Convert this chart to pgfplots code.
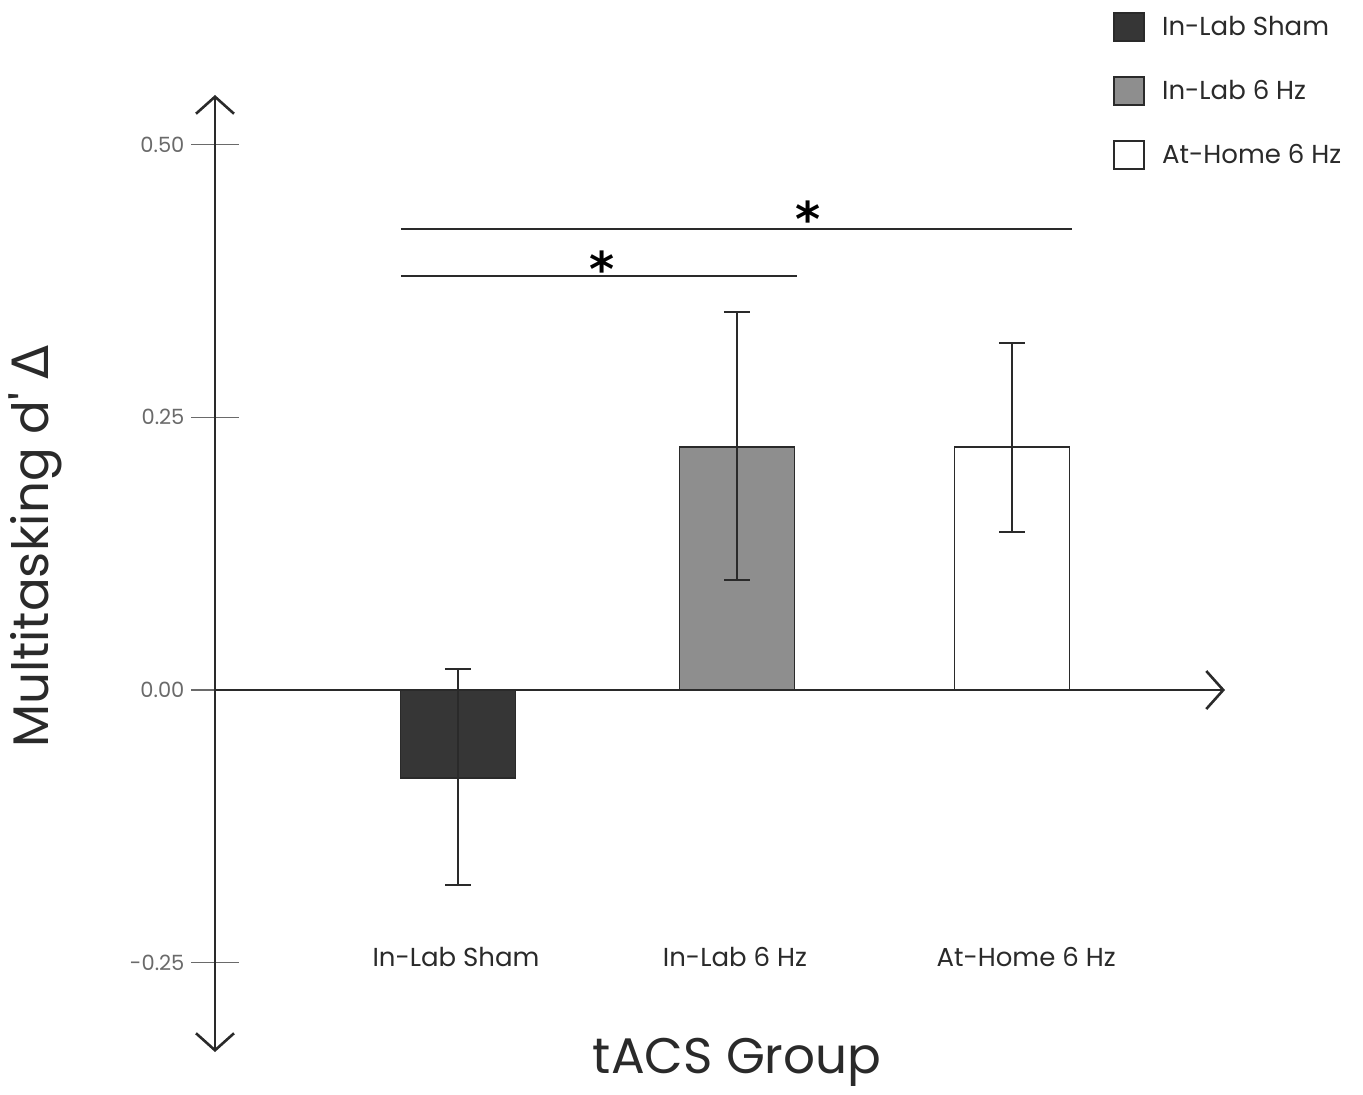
\documentclass[border=0pt]{standalone}
\usepackage{fontspec}
\setmainfont{Poppins}
\newfontfamily\dejavu{DejaVu Sans}
\usepackage{pgfplots}
\pgfplotsset{compat=1.18}
\usetikzlibrary{arrows.meta}
\definecolor{barDark}{HTML}{363636}
\definecolor{barGray}{HTML}{8E8E8E}
\definecolor{ink}{HTML}{2A2A2A}
\definecolor{tickgray}{HTML}{6A6A6A}
\tikzset{barb/.tip={Straight Barb[length=8.5pt,width=19pt,line width=1.3pt]}}
\pgfplotsset{sqleg/.style={legend image code/.code={\draw[##1,line width=0.9pt] (0pt,-7pt) rectangle (15pt,7pt);}}}
\begin{document}
\begin{tikzpicture}
\useasboundingbox (0,0) rectangle (681.5pt,547pt);
\begin{axis}[
  at={(107.5pt,21pt)}, anchor=south west,
  scale only axis, width=505pt, height=478.5pt,
  xmin=0, xmax=3.6462, ymin=-0.3318, ymax=0.5454,
  axis lines=middle,
  hide obscured x ticks=false,
  hide obscured y ticks=false,
  clip=false,
  axis line style={line width=1.1pt, color=ink},
  x axis line style={-barb},
  y axis line style={barb-barb},
  xtick=\empty,
  ytick={-0.25,0,0.25,0.5},
  yticklabels={-0.25,0.00,0.25,0.50},
  yticklabel style={font=\fontsize{10.5}{10.5}\selectfont, color=tickgray},
  tick align=center,
  major tick length=23.5pt,
  tick style={line width=0.7pt, color=tickgray},
  ylabel={Multitasking d\textquotesingle\ {\dejavu Δ}},
  ylabel style={at={(axis description cs:-0.178,0.528)}, anchor=center, rotate=90, font=\fontsize{25}{25}\selectfont, color=ink},
  xlabel={tACS Group},
  xlabel style={at={(axis description cs:0.517,-0.0104)}, anchor=center, font=\fontsize{25}{25}\selectfont, color=ink},
  legend style={at={(axis description cs:0.889,1.0867)}, anchor=north west, draw=none, fill=none, inner sep=0pt, row sep=17pt, font=\fontsize{13}{13}\selectfont, text=ink, nodes={inner sep=0pt}},
  legend cell align=left,
  error bars/error bar style={line width=0.8pt, color=ink},
  error bars/error mark options={rotate=90, mark size=6.5pt, line width=0.9pt, color=ink},
]
\addplot[ybar, bar width=57.5pt, bar shift=0pt, fill=barDark, draw=ink, line width=0.8pt, sqleg,
  error bars/.cd, y dir=both, y explicit]
  coordinates {(0.877,-0.0804) += (0,0.0999) -= (0,0.0983)};
\addlegendentry{\hspace{8.5pt}In-Lab Sham}
\addplot[ybar, bar width=57.5pt, bar shift=0pt, fill=barGray, draw=ink, line width=0.8pt, sqleg,
  error bars/.cd, y dir=both, y explicit]
  coordinates {(1.884,0.2227) += (0,0.1238) -= (0,0.1219)};
\addlegendentry{\hspace{8.5pt}In-Lab 6 Hz}
\addplot[ybar, bar width=57.5pt, bar shift=0pt, fill=white, draw=ink, line width=0.8pt, sqleg,
  error bars/.cd, y dir=both, y explicit]
  coordinates {(2.877,0.2227) += (0,0.0953) -= (0,0.0782)};
\addlegendentry{\hspace{8.5pt}At-Home 6 Hz}
% significance bars
\addplot[forget plot, line width=1.4pt, color=ink] coordinates {(0.671,0.3795) (2.101,0.3795)};
\addplot[forget plot, line width=1.4pt, color=ink] coordinates {(0.671,0.4225) (3.094,0.4225)};
\node[font=\dejavu\bfseries\fontsize{24}{24}\selectfont, inner sep=0pt] at (axis cs:1.397,0.3862) {*};
\node[font=\dejavu\bfseries\fontsize{24}{24}\selectfont, inner sep=0pt] at (axis cs:2.141,0.4320) {*};
% category labels
\node[font=\fontsize{13}{13}\selectfont, color=ink] at (axis cs:0.87,-0.2447) {In-Lab Sham};
\node[font=\fontsize{13}{13}\selectfont, color=ink] at (axis cs:1.877,-0.2447) {In-Lab 6 Hz};
\node[font=\fontsize{13}{13}\selectfont, color=ink] at (axis cs:2.928,-0.2447) {At-Home 6 Hz};
\end{axis}
\end{tikzpicture}
\end{document}
